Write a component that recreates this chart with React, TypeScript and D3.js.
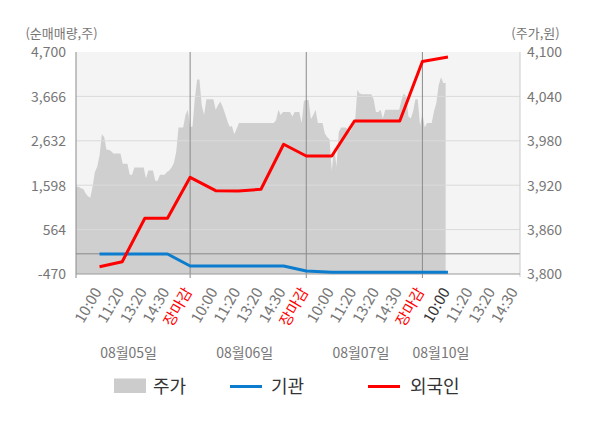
import { area, line, scaleLinear } from "d3";

// trading days shown on the x axis
const dayLabels = ["08월05일", "08월06일", "08월07일", "08월10일"];
const timeLabels = ["10:00", "11:20", "13:20", "14:30", "장마감"];

// stock price (원), sampled every 1/50 of a trading day
const price0805 = [
  3918, 3918, 3918, 3916, 3915, 3909, 3905, 3903, 3918, 3938,
  3945, 3960, 3989, 3985, 3968, 3968, 3966, 3963, 3963, 3963,
  3963, 3949, 3949, 3949, 3934, 3934, 3944, 3944, 3944, 3944,
  3944, 3929, 3940, 3940, 3940, 3926, 3926, 3934, 3934, 3934,
  3938, 3940, 3944, 3950, 3965, 3998, 3998, 3998, 4015, 4022
];
const price0806 = [
  3999, 3999, 4036, 4063, 4063, 4028, 4015, 4036, 4036, 4036,
  4036, 4022, 4028, 4033, 4026, 4017, 4007, 3999, 4000, 3989,
  3996, 4004, 4004, 4004, 4004, 4004, 4004, 4004, 4004, 4004,
  4004, 4004, 4004, 4004, 4004, 4004, 4004, 4008, 4022, 4015,
  4019, 4019, 4019, 4019, 4013, 4019, 4019, 4019, 4004, 4034
];
const price0807 = [
  4035, 4035, 4009, 4015, 4022, 4004, 4004, 4004, 3990, 3985,
  3982, 3940, 3972, 3945, 3992, 3998, 3998, 3998, 3995, 3992,
  4001, 4006, 4049, 4044, 4043, 4043, 4043, 4043, 4043, 4036,
  4019, 4019, 4022, 4010, 4022, 4022, 4022, 4022, 4022, 4022,
  4022, 4035, 4044, 4040, 4013, 4010, 4020, 4036, 4036, 4000
];
const price0810 = [4017, 3998, 4004, 4004, 4004, 4020, 4031, 4055, 4066, 4058, 4058];

// net buying (주) at each time label
const foreignNet = [
  -300, -184, 827, 827, 1782,
  1470, 1463, 1503, 2551, 2278,
  2278, 3093, 3093, 3093, 4479,
  4584
];
const institutionNet = [
  -5, -5, -5, -5, -284,
  -284, -284, -284, -284, -400,
  -430, -430, -430, -430, -430,
  -430
];

const leftTicks = [-470, 564, 1598, 2632, 3666, 4700];
const rightTicks = [3800, 3860, 3920, 3980, 4040, 4100];

const width = 600;
const height = 428;
const plotLeft = 76;
const plotRight = 520;
const plotTop = 52;
const plotBottom = 274;
const slotFrac = [0.22, 0.415, 0.61, 0.805, 1];
const samplesPerDay = 50;
const font = "'Noto Sans CJK KR', 'Noto Sans', sans-serif";
const axisText = "#767676";
const blue = "#0b7cce";
const red = "#ff0000";

const x = scaleLinear().domain([0, 3]).range([74, 422.4]);
const yLeft = scaleLinear().domain([-470, 4700]).range([plotBottom, plotTop]);
const yRight = scaleLinear().domain([3800, 4100]).range([plotBottom, plotTop]);

const fmt = (v: number) => v.toLocaleString("en-US");

export default function App(): React.JSX.Element {
  const priceDays = [price0805, price0806, price0807, price0810];
  const pricePoints = priceDays.flatMap((vals, d) =>
    vals.map((v, k) => ({ t: d + k / samplesPerDay, v }))
  );
  const priceArea = area<{ t: number; v: number }>()
    .x((p) => x(p.t))
    .y0(plotBottom)
    .y1((p) => yRight(p.v));

  const tickTimes = dayLabels.flatMap((_, d) => slotFrac.map((f, j) => ({ d, j, t: d + f })));
  const seriesTimes = tickTimes.slice(0, foreignNet.length);
  const axisLabels = tickTimes.filter((p) => !(p.d === dayLabels.length - 1 && p.j === 4));

  const netLine = line<number>()
    .x((_, i) => x(seriesTimes[i].t))
    .y((v) => yLeft(v));

  const separators = [1, 2, 3].map((d) => x(d));
  const lastDay = dayLabels.length - 1;

  return (
    <svg
      width={width}
      height={height}
      style={{ position: "absolute", left: 0, top: 0, background: "#fff" }}
      fontFamily={font}
    >
      <defs>
        <clipPath id="plot-clip">
          <rect x={plotLeft} y={plotTop} width={plotRight - plotLeft} height={plotBottom - plotTop} />
        </clipPath>
      </defs>
      <rect x={plotLeft} y={plotTop} width={plotRight - plotLeft} height={plotBottom - plotTop} fill="#f4f4f4" />
      <path d={priceArea(pricePoints) ?? ""} fill="#cfcfcf" clipPath="url(#plot-clip)" />
      {leftTicks.slice(1, -1).map((v) => (
        <line key={v} x1={plotLeft} x2={plotRight} y1={yLeft(v)} y2={yLeft(v)} stroke="#dadada" />
      ))}
      <line x1={plotLeft} x2={plotRight} y1={yLeft(0)} y2={yLeft(0)} stroke="#8a8a8a" />
      {separators.map((sx) => (
        <line key={sx} x1={sx} x2={sx} y1={plotTop} y2={plotBottom + 4} stroke="#8a8a8a" />
      ))}
      <line x1={plotLeft} x2={plotLeft} y1={plotTop} y2={plotBottom + 4} stroke="#8a8a8a" />
      <line x1={plotRight} x2={plotRight} y1={plotTop} y2={plotBottom + 3} stroke="#cccccc" />
      <line x1={plotLeft} x2={plotRight} y1={plotBottom} y2={plotBottom} stroke="#9a9a9a" />

      <g clipPath="url(#plot-clip)" fill="none" strokeWidth={3} strokeLinejoin="round">
        <path d={netLine(institutionNet) ?? ""} stroke={blue} />
        <path d={netLine(foreignNet) ?? ""} stroke={red} />
      </g>

      <g fontSize={14} fill={axisText}>
        {leftTicks.map((v) => (
          <text key={v} x={plotLeft - 10} y={yLeft(v)} dy="0.38em" textAnchor="end">
            {fmt(v)}
          </text>
        ))}
        {rightTicks.map((v) => (
          <text key={v} x={plotRight + 7} y={yRight(v)} dy="0.38em" textAnchor="start">
            {fmt(v)}
          </text>
        ))}
      </g>
      <g fontSize={13} fill={axisText} textAnchor="middle">
        <text x={61.5} y={38}>(순매매량,주)</text>
        <text x={535.5} y={38}>(주가,원)</text>
      </g>

      <g fontSize={15}>
        {axisLabels.map((p) => {
          const px = x(p.t);
          const color = p.j === 4 ? red : p.d === lastDay && p.j === 0 ? "#333" : axisText;
          return (
            <text
              key={`${p.d}-${p.j}`}
              transform={`translate(${px - 2},${plotBottom + 15}) rotate(-60)`}
              dy="0.35em"
              textAnchor="end"
              fill={color}
            >
              {timeLabels[p.j]}
            </text>
          );
        })}
      </g>
      <g fontSize={14} fill={axisText} textAnchor="middle">
        {dayLabels.map((label, d) => (
          <text key={label} x={x(d + (d === lastDay ? 0.16 : 0.47))} y={358}>
            {label}
          </text>
        ))}
      </g>

      <g fontSize={18} fill="#333">
        <rect x={114} y={378.5} width={32} height={14.5} fill="#cccccc" />
        <text x={153} y={393}>주가</text>
        <line x1={230} x2={262} y1={386.5} y2={386.5} stroke={blue} strokeWidth={3} />
        <text x={271} y={393}>기관</text>
        <line x1={368} x2={400} y1={386.5} y2={386.5} stroke={red} strokeWidth={3} />
        <text x={410} y={393}>외국인</text>
      </g>
    </svg>
  );
}
